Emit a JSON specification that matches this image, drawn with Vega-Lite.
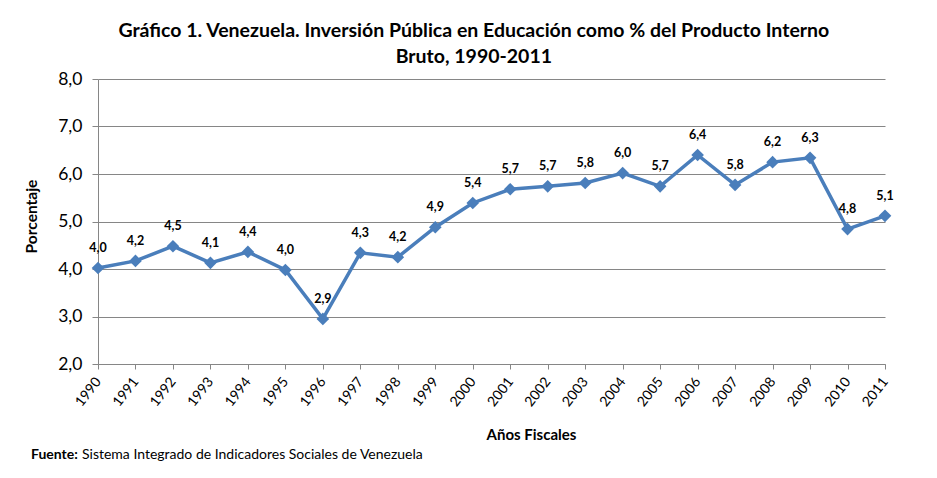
{
  "$schema": "https://vega.github.io/schema/vega-lite/v6.json",
  "padding": {"top": 20, "left": 24, "right": 10, "bottom": 5},
  "background": "white",
  "title": {
    "text": ["Gráfico 1. Venezuela. Inversión Pública en Educación como % del Producto Interno", "Bruto, 1990-2011"],
    "fontSize": 19.5,
    "fontWeight": "bold",
    "font": "Lato",
    "color": "#000000",
    "lineHeight": 26,
    "anchor": "middle",
    "dx": 15,
    "offset": 3
  },
  "vconcat": [
    {
      "title": {
        "text": "Fuente:",
        "orient": "bottom",
        "anchor": "start",
        "frame": "group",
        "fontSize": 14,
        "fontWeight": "bold",
        "font": "Lato",
        "color": "#000000",
        "dx": -67,
        "offset": -14
      },
      "vconcat": [
        {
          "title": {
            "text": "Sistema Integrado de Indicadores Sociales de Venezuela",
            "orient": "bottom",
            "anchor": "start",
            "frame": "group",
            "fontSize": 14,
            "fontWeight": "normal",
            "font": "Lato",
            "color": "#000000",
            "dx": -16,
            "offset": 6
          },
          "width": 787,
          "height": 285,
          "data": {
            "values": [
              {"year": "1990", "value": 4.02, "label": "4,0"},
              {"year": "1991", "value": 4.17, "label": "4,2"},
              {"year": "1992", "value": 4.48, "label": "4,5"},
              {"year": "1993", "value": 4.13, "label": "4,1"},
              {"year": "1994", "value": 4.36, "label": "4,4"},
              {"year": "1995", "value": 3.98, "label": "4,0"},
              {"year": "1996", "value": 2.95, "label": "2,9"},
              {"year": "1997", "value": 4.34, "label": "4,3"},
              {"year": "1998", "value": 4.25, "label": "4,2"},
              {"year": "1999", "value": 4.88, "label": "4,9"},
              {"year": "2000", "value": 5.39, "label": "5,4"},
              {"year": "2001", "value": 5.68, "label": "5,7"},
              {"year": "2002", "value": 5.74, "label": "5,7"},
              {"year": "2003", "value": 5.81, "label": "5,8"},
              {"year": "2004", "value": 6.02, "label": "6,0"},
              {"year": "2005", "value": 5.74, "label": "5,7"},
              {"year": "2006", "value": 6.4, "label": "6,4"},
              {"year": "2007", "value": 5.77, "label": "5,8"},
              {"year": "2008", "value": 6.25, "label": "6,2"},
              {"year": "2009", "value": 6.34, "label": "6,3"},
              {"year": "2010", "value": 4.84, "label": "4,8"},
              {"year": "2011", "value": 5.12, "label": "5,1"}
            ]
          },
          "encoding": {
            "x": {
              "field": "year",
              "type": "ordinal",
              "scale": {"type": "point", "padding": 0},
              "axis": {
                "title": "Años Fiscales",
                "titleFont": "Lato",
                "titleFontSize": 15,
                "titleFontWeight": "bold",
                "titleColor": "#000000",
                "titleX": 433,
                "titleY": 70,
                "titleBaseline": "middle",
                "labelAngle": -52,
                "labelAlign": "right",
                "labelBaseline": "middle",
                "labelFont": "Lato",
                "labelFontSize": 14,
                "labelColor": "#000000",
                "labelPadding": 10,
                "domainColor": "#868686",
                "domainWidth": 1,
                "tickColor": "#868686",
                "tickSize": 5,
                "grid": false
              }
            },
            "y": {
              "field": "value",
              "type": "quantitative",
              "scale": {"domain": [2, 8], "nice": false, "zero": false},
              "axis": {
                "title": "Porcentaje",
                "titleFont": "Lato",
                "titleFontSize": 15.5,
                "titleFontWeight": "bold",
                "titleColor": "#000000",
                "titleX": -67,
                "titleY": 137,
                "titleAlign": "center",
                "titleBaseline": "middle",
                "values": [2, 3, 4, 5, 6, 7, 8],
                "labelExpr": "replace(format(datum.value, '.1f'), '.', ',')",
                "labelFont": "Lato",
                "labelFontSize": 17.5,
                "labelColor": "#000000",
                "labelPadding": 10,
                "domainColor": "#868686",
                "tickColor": "#868686",
                "tickSize": 6,
                "gridColor": "#868686",
                "gridWidth": 1
              }
            }
          },
          "layer": [
            {
              "mark": {"type": "line", "color": "#4A7EBB", "strokeWidth": 3.5}
            },
            {
              "mark": {"type": "point", "shape": "diamond", "filled": true, "opacity": 1, "color": "#4A7EBB", "size": 160}
            },
            {
              "mark": {"type": "text", "dy": -20, "fontWeight": "bold", "fontSize": 12.5, "font": "Lato", "color": "#000000"},
              "encoding": {"text": {"field": "label", "type": "nominal"}}
            }
          ]
        }
      ]
    }
  ],
  "config": {
    "view": {"stroke": null},
    "concat": {"spacing": 0}
  }
}
